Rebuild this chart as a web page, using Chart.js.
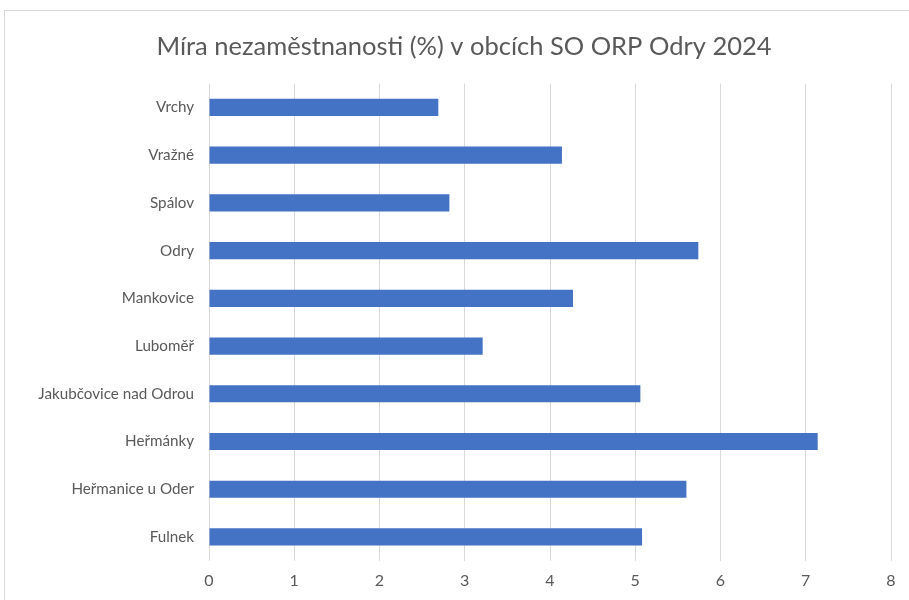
<!DOCTYPE html>
<html>
<head>
<meta charset="utf-8">
<script src="https://cdn.jsdelivr.net/npm/chart.js@4"></script>
<style>
    body { margin: 0; background: #fff; overflow: hidden; }
    #wrap { position: relative; width: 909px; height: 600px; }
    #frame { position: absolute; left: 4px; top: 10px; width: 1000px; height: 1000px; border: 1px solid #d9d9d9; box-sizing: border-box; }
    canvas { position: absolute; left: 0; top: 0; }
</style>
</head>
<body>
<div id="wrap">
    <div id="frame"></div>
    <canvas id="unemploymentChart" width="909" height="600"></canvas>
</div>
<script>
const municipalities = ['Vrchy', 'Vražné', 'Spálov', 'Odry', 'Mankovice', 'Luboměř', 'Jakubčovice nad Odrou', 'Heřmánky', 'Heřmanice u Oder', 'Fulnek'];
const unemploymentRate = [2.69, 4.14, 2.82, 5.74, 4.27, 3.21, 5.06, 7.14, 5.60, 5.08];
const chartTitle = 'Míra nezaměstnanosti (%) v obcích SO ORP Odry 2024';

const textColor = '#595959';
const fontFamily = 'Lato, "Open Sans", sans-serif';

const ctx = document.getElementById('unemploymentChart').getContext('2d');
new Chart(ctx, {
    type: 'bar',
    data: {
        labels: municipalities,
        datasets: [{
            label: 'Míra nezaměstnanosti',
            data: unemploymentRate,
            backgroundColor: '#4472c4',
            borderWidth: 0,
            barPercentage: 0.36,
            categoryPercentage: 1
        }]
    },
    options: {
        indexAxis: 'y',
        responsive: false,
        animation: false,
        layout: {
            padding: { left: 37, right: 18, top: 0, bottom: 0 }
        },
        plugins: {
            legend: { display: false },
            tooltip: { enabled: false },
            title: {
                display: true,
                text: chartTitle,
                color: textColor,
                font: { family: fontFamily, size: 25.5, weight: 'normal' },
                padding: { top: 31, bottom: 22 }
            }
        },
        scales: {
            x: {
                min: 0,
                max: 8,
                ticks: {
                    stepSize: 1,
                    color: textColor,
                    padding: 10,
                    font: { family: fontFamily, size: 16 }
                },
                grid: {
                    color: '#d9d9d9',
                    drawTicks: false
                },
                border: { display: false }
            },
            y: {
                afterFit: (scale) => { scale.width = 172; },
                ticks: {
                    color: textColor,
                    padding: 15,
                    font: { family: fontFamily, size: 15.2 }
                },
                grid: { display: false, drawTicks: false },
                border: { display: false }
            }
        }
    }
});
</script>
</body>
</html>
